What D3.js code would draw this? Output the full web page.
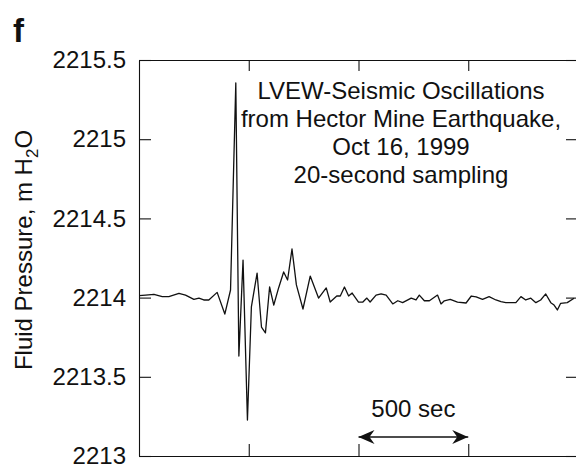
<!DOCTYPE html>
<html lang="en">
<head>
    <meta charset="utf-8">
    <title>LVEW seismic oscillations</title>
    <script type="text/javascript" src="https://cdnjs.cloudflare.com/ajax/libs/d3/7.8.5/d3.min.js"></script>
    <style>
        body { margin: 0; background: #fff; }
        text { font-family: "Liberation Sans", Arial, sans-serif; fill: #111; }
    </style>
</head>
<body>
    <script type="text/javascript">
    // time since start of record, seconds (20-second sampling)
    var timeSec = [0, 30, 68, 106, 136, 182, 212, 250, 273, 295, 318, 356, 391, 417,
        441, 455, 474, 494, 512, 538, 558, 576, 595, 614, 636, 659, 677, 697, 717,
        747, 780, 818, 853, 871, 901, 917, 936, 955, 971, 1000, 1020, 1038, 1053,
        1080, 1103, 1126, 1156, 1179, 1201, 1240, 1262, 1277, 1300, 1323, 1360,
        1376, 1391, 1418, 1451, 1490, 1514, 1536, 1565, 1595, 1626, 1649, 1671,
        1717, 1740, 1762, 1785, 1808, 1830, 1853, 1876, 1891, 1906, 1921, 1951, 1982];

    // fluid pressure, m H2O
    var pressure = [2214.012, 2214.016, 2214.021, 2214.006, 2214.006, 2214.027, 2214.016,
        2213.989, 2213.996, 2213.985, 2213.985, 2214.033, 2213.896, 2214.048,
        2215.355, 2213.631, 2214.237, 2213.227, 2213.941, 2214.155, 2213.814,
        2213.777, 2214.067, 2213.953, 2214.061, 2214.162, 2214.111, 2214.307,
        2214.080, 2213.928, 2214.136, 2213.997, 2214.061, 2213.972, 2214.010,
        2214.010, 2214.067, 2214.010, 2214.029, 2213.972, 2213.972, 2213.997,
        2213.972, 2214.016, 2214.023, 2214.016, 2213.960, 2213.980, 2213.968,
        2213.997, 2213.985, 2214.016, 2213.980, 2213.980, 2214.016, 2213.960,
        2213.980, 2213.989, 2213.972, 2213.966, 2214.010, 2214.004, 2213.989,
        2214.006, 2213.985, 2213.974, 2213.968, 2213.968, 2214.006, 2213.985,
        2213.996, 2213.968, 2213.985, 2214.023, 2213.968, 2213.953, 2213.922,
        2213.964, 2213.968, 2213.996];

    var yTicks = [2213, 2213.5, 2214, 2214.5, 2215, 2215.5];
    var xTicks = [500, 1000, 1500];
    var titleLines = ["LVEW-Seismic Oscillations", "from Hector Mine Earthquake,",
        "Oct 16, 1999", "20-second sampling"];
    var scaleBar = [1000, 1500]; // the "500 sec" arrow

    var data = timeSec.map(function(t, i) { return {t: t, v: pressure[i]}; });

    //plot box (don't call these top/left: window.top is read-only)
    var box = {left: 139, right: 578, top: 60, bottom: 456};

    var xScale = d3.scaleLinear().domain([0, 2000]).range([box.left, box.right]);
    var yScale = d3.scaleLinear().domain([2213, 2215.5]).range([box.bottom, box.top]);

    var svg = d3.select("body").append("svg")
        .attr("width", 576)
        .attr("height", 464);

    //panel letter
    svg.append("text")
        .attr("x", 13).attr("y", 42)
        .style("font-size", "33px").style("font-weight", "bold")
        .text("f");

    //axes, ticks pointing inward
    var axisStyle = function(g) {
        g.selectAll("path, line").attr("stroke", "#111").attr("stroke-width", 1.1);
        g.selectAll("text").style("font-size", "24px").attr("fill", "#111")
            .style("font-family", "'Liberation Sans', Arial, sans-serif");
    };

    svg.append("g")
        .attr("transform", "translate(" + box.left + ",0)")
        .call(d3.axisLeft(yScale).tickValues(yTicks).tickSizeInner(-12)
            .tickSizeOuter(0).tickPadding(13).tickFormat(function(d) { return String(d); }))
        .call(axisStyle);

    svg.append("g")
        .attr("transform", "translate(" + box.right + ",0)")
        .call(d3.axisRight(yScale).tickValues(yTicks).tickSizeInner(-12)
            .tickSizeOuter(0).tickFormat(""))
        .call(axisStyle);

    svg.append("g")
        .attr("transform", "translate(0," + box.top + ")")
        .call(d3.axisTop(xScale).tickValues(xTicks).tickSizeInner(-11)
            .tickSizeOuter(0).tickFormat(""))
        .call(axisStyle);

    svg.append("g")
        .attr("transform", "translate(0," + box.bottom + ")")
        .call(d3.axisBottom(xScale).tickValues(xTicks).tickSizeInner(-12)
            .tickSizeOuter(0).tickFormat(""))
        .call(axisStyle);

    //y label with subscript
    var ylab = svg.append("text")
        .attr("transform", "translate(32," + ((box.top + box.bottom) / 2 - 8) + ") rotate(-90)")
        .attr("text-anchor", "middle")
        .style("font-size", "24px");
    ylab.append("tspan").text("Fluid Pressure, m H");
    ylab.append("tspan").attr("dy", 6).style("font-size", "17px").text("2");
    ylab.append("tspan").attr("dy", -6).text("O");

    //pressure trace
    var line = d3.line()
        .x(function(d) { return xScale(d.t); })
        .y(function(d) { return yScale(d.v); });

    svg.append("path")
        .datum(data)
        .attr("fill", "none")
        .attr("stroke", "#111")
        .attr("stroke-width", 1.3)
        .attr("stroke-linejoin", "round")
        .attr("d", line);

    //title block
    svg.append("g").selectAll("text")
        .data(titleLines)
        .enter().append("text")
        .attr("x", 401)
        .attr("y", function(d, i) { return 99 + i * 28; })
        .attr("text-anchor", "middle")
        .style("font-size", "24px")
        .text(function(d) { return d; });

    //500 sec scale arrow
    var defs = svg.append("defs");
    defs.append("marker")
        .attr("id", "head")
        .attr("viewBox", "0 0 16 14")
        .attr("refX", 16).attr("refY", 7)
        .attr("markerWidth", 16).attr("markerHeight", 14)
        .attr("markerUnits", "userSpaceOnUse")
        .attr("orient", "auto-start-reverse")
        .append("path")
        .attr("d", "M0,0 L16,7 L0,14 L5,7 Z")
        .attr("fill", "#111");

    var arrowY = yScale(2213.12);
    svg.append("line")
        .attr("x1", xScale(scaleBar[0])).attr("x2", xScale(scaleBar[1]))
        .attr("y1", arrowY).attr("y2", arrowY)
        .attr("stroke", "#111").attr("stroke-width", 1.5)
        .attr("marker-start", "url(#head)")
        .attr("marker-end", "url(#head)");

    svg.append("text")
        .attr("x", (xScale(scaleBar[0]) + xScale(scaleBar[1])) / 2)
        .attr("y", 417)
        .attr("text-anchor", "middle")
        .style("font-size", "24px")
        .text("500 sec");
    </script>
</body>
</html>
